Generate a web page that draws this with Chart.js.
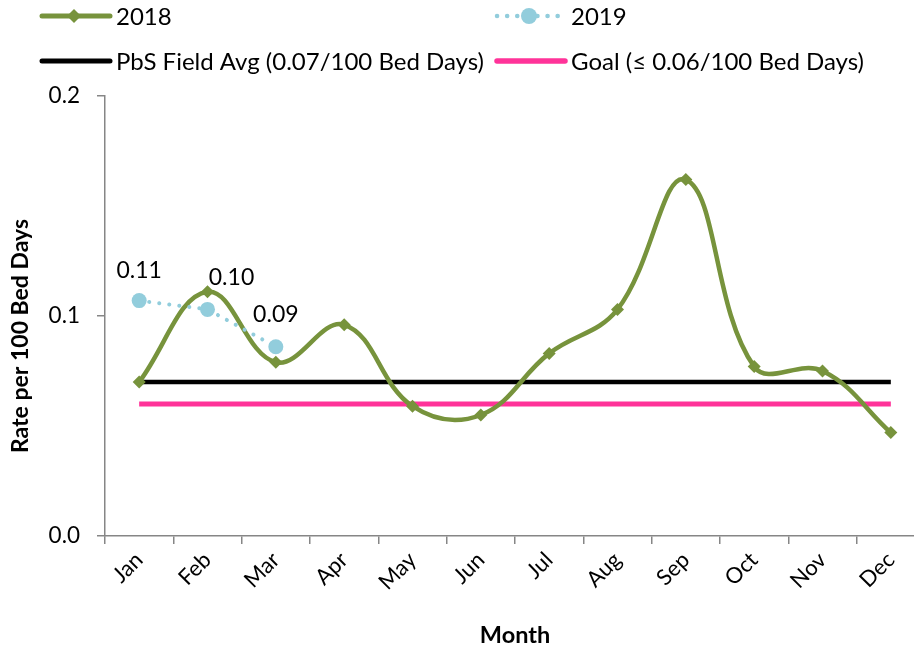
<!DOCTYPE html>
<html>
<head>
<meta charset="utf-8">
<script src="https://cdn.jsdelivr.net/npm/chart.js@4/dist/chart.umd.min.js"></script>
<style>
  html, body { margin: 0; padding: 0; background: #fff; overflow: hidden; }
  #wrap { width: 940px; height: 647px; }
</style>
</head>
<body>
<div id="wrap"><canvas id="c" width="940" height="647"></canvas></div>
<script>
// Monthly rate per 100 bed days
const months = ['Jan','Feb','Mar','Apr','May','Jun','Jul','Aug','Sep','Oct','Nov','Dec'];
const rate2018 = [0.070, 0.111, 0.079, 0.096, 0.059, 0.055, 0.083, 0.103, 0.162, 0.077, 0.075, 0.047];
const rate2019 = [0.107, 0.103, 0.086];
const fieldAvg = 0.07;
const goal = 0.06;
const yTicks = [0.0, 0.1, 0.2];
const yTitle = 'Rate per 100 Bed Days';

const FONT = 'Lato, "Liberation Sans", sans-serif';
const AXIS_GREY = '#868686';

const constLine = v => months.map(() => v);

// Two-column legend drawn above the plot
const gridLegend = {
  id: 'gridLegend',
  afterDraw(chart) {
    const ctx = chart.ctx;
    const ds = chart.data.datasets;
    const cells = [
      { i: 0, x: 42, y: 16 }, { i: 1, x: 497, y: 16 },
      { i: 2, x: 42, y: 61 }, { i: 3, x: 497, y: 61 }
    ];
    ctx.save();
    ctx.font = '24px ' + FONT;
    ctx.textBaseline = 'middle';
    cells.forEach(c => {
      const d = ds[c.i];
      const x0 = c.x, x1 = c.x + 68, y = c.y;
      ctx.strokeStyle = d.borderColor;
      ctx.lineWidth = d.borderWidth + 0.5;
      ctx.lineCap = d.borderCapStyle || 'round';
      ctx.setLineDash(d.borderDash || []);
      ctx.beginPath(); ctx.moveTo(x0, y); ctx.lineTo(x1, y); ctx.stroke();
      ctx.setLineDash([]);
      if (d.pointRadius > 0) {
        ctx.fillStyle = d.pointBackgroundColor;
        const r = d.pointRadius + 0.5, cx = (x0 + x1) / 2 - 2;
        ctx.beginPath();
        if (d.pointStyle === 'rectRot') {
          ctx.moveTo(cx, y - r); ctx.lineTo(cx + r, y); ctx.lineTo(cx, y + r); ctx.lineTo(cx - r, y);
          ctx.closePath();
        } else {
          ctx.arc(cx, y, r, 0, Math.PI * 2);
        }
        ctx.fill();
      }
      ctx.fillStyle = '#000';
      ctx.fillText(d.label, x1 + 6, y + 1);
    });
    ctx.restore();
  }
};

// Vertical axis title, set a little below the middle of the axis
const yAxisTitle = {
  id: 'yAxisTitle',
  afterDraw(chart) {
    const ctx = chart.ctx;
    const area = chart.chartArea;
    ctx.save();
    ctx.translate(21, (area.top + area.bottom) / 2 + 20);
    ctx.rotate(-Math.PI / 2);
    ctx.font = 'bold 23px ' + FONT;
    ctx.fillStyle = '#000';
    ctx.textAlign = 'center';
    ctx.textBaseline = 'middle';
    ctx.fillText(yTitle, 0, 0);
    ctx.restore();
  }
};

// Value labels for the 2019 points
const valueLabels = {
  id: 'valueLabels',
  afterDatasetsDraw(chart) {
    const meta = chart.getDatasetMeta(1);
    const shift = [[0, -30], [24, -32], [0, -32]];
    const ctx = chart.ctx;
    ctx.save();
    ctx.font = '23px ' + FONT;
    ctx.fillStyle = '#000';
    ctx.textAlign = 'center';
    ctx.textBaseline = 'middle';
    meta.data.forEach((pt, i) => {
      const v = chart.data.datasets[1].data[i];
      ctx.fillText(v.toFixed(2), pt.x + shift[i][0], pt.y + shift[i][1]);
    });
    ctx.restore();
  }
};

new Chart(document.getElementById('c'), {
  type: 'line',
  data: {
    labels: months,
    datasets: [
      {
        label: '2018', data: rate2018,
        borderColor: '#77933C', backgroundColor: '#77933C',
        borderWidth: 4.5, tension: 0.4,
        pointStyle: 'rectRot', pointRadius: 6.5,
        pointBackgroundColor: '#77933C', pointBorderColor: '#77933C', pointBorderWidth: 0,
        order: 2
      },
      {
        label: '2019', data: rate2019,
        borderColor: '#92CDDC', backgroundColor: '#92CDDC',
        borderWidth: 4, tension: 0, borderCapStyle: 'round', borderDash: [0.1, 10],
        pointStyle: 'circle', pointRadius: 7.5,
        pointBackgroundColor: '#92CDDC', pointBorderColor: '#92CDDC', pointBorderWidth: 0,
        order: 1
      },
      {
        label: 'PbS Field Avg (0.07/100 Bed Days)', data: constLine(fieldAvg),
        borderColor: '#000000', backgroundColor: '#000000',
        borderWidth: 4.5, pointRadius: 0, tension: 0, order: 3
      },
      {
        label: 'Goal (\u2264 0.06/100 Bed Days)', data: constLine(goal),
        borderColor: '#FF3399', backgroundColor: '#FF3399',
        borderWidth: 5, pointRadius: 0, tension: 0, order: 4
      }
    ]
  },
  options: {
    responsive: false,
    animation: false,
    layout: { padding: { top: 96, right: 15, left: 0, bottom: 0 } },
    plugins: { legend: { display: false }, tooltip: { enabled: false } },
    scales: {
      x: {
        offset: true,
        grid: { display: true, drawOnChartArea: false, offset: true, color: AXIS_GREY, tickLength: 8, lineWidth: 1.5 },
        border: { color: AXIS_GREY, width: 1.5 },
        ticks: { color: '#000', font: { family: FONT, size: 22 }, maxRotation: 45, minRotation: 45, padding: 3 },
        title: { display: true, text: 'Month', color: '#000', font: { family: FONT, size: 23.5, weight: 'bold', lineHeight: 1.0 }, padding: { top: 0, bottom: 0 } },
        afterFit(s) { s.height = 111; }
      },
      y: {
        min: 0, max: 0.2,
        afterBuildTicks(s) { s.ticks = yTicks.map(v => ({ value: v })); },
        grid: { display: true, drawOnChartArea: false, color: AXIS_GREY, tickLength: 8, lineWidth: 1.5 },
        border: { color: AXIS_GREY, width: 1.5 },
        ticks: { color: '#000', font: { family: FONT, size: 22.5 }, padding: 17, callback: v => v.toFixed(1) },
        title: { display: false },
        afterFit(s) { s.width = 105; }
      }
    }
  },
  plugins: [gridLegend, yAxisTitle, valueLabels]
});
</script>
</body>
</html>
